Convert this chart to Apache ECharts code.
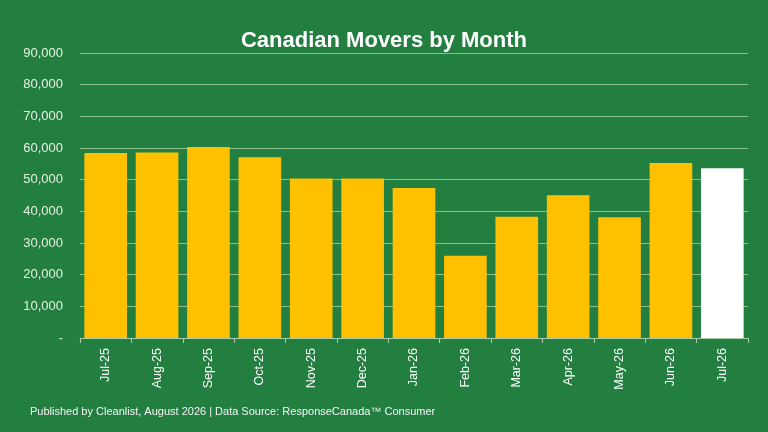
<!DOCTYPE html>
<html><head><meta charset="utf-8">
<script src="https://cdn.jsdelivr.net/npm/echarts@6/dist/echarts.min.js"></script>
<style>html,body{margin:0;padding:0;background:#237F3F;}#c{width:768px;height:432px;}</style>
</head><body><div id="c"></div>
<script>
const categories = ['Jul-25','Aug-25','Sep-25','Oct-25','Nov-25','Dec-25','Jan-26','Feb-26','Mar-26','Apr-26','May-26','Jun-26','Jul-26'];
const movers = [58400, 58600, 60300, 57100, 50400, 50400, 47400, 26000, 38300, 45100, 38100, 55300, 53600];
const highlightIndex = 12;
const titleText = 'Canadian Movers by Month';
const footerText = 'Published by Cleanlist, August 2026 | Data Source: ResponseCanada\u2122 Consumer';

const chart = echarts.init(document.getElementById('c'));
chart.setOption({
  backgroundColor: '#237F3F',
  animation: false,
  title: {
    text: titleText, left: 'center', top: 25,
    textStyle: {color: '#ffffff', fontFamily: 'Liberation Sans, Arial, sans-serif', fontSize: 22, fontWeight: 'bold'}
  },
  graphic: [{
    type: 'text', left: 30, top: 406,
    style: {text: footerText, fill: '#f4f4f4', font: '11px "Liberation Sans Narrow", "Liberation Sans", Arial, sans-serif'}
  }],
  grid: {left: 80, right: 20, top: 53, bottom: 94, containLabel: false},
  xAxis: {
    type: 'category', data: categories,
    axisLine: {show: true, lineStyle: {color: '#a9cfa9', width: 1}},
    axisTick: {show: true, alignWithLabel: false, length: 5, lineStyle: {color: '#a9cfa9'}},
    axisLabel: {rotate: 90, color: '#ffffff', fontFamily: 'Liberation Sans, Arial, sans-serif', fontSize: 12.5, margin: 10}
  },
  yAxis: {
    type: 'value', min: 0, max: 90000, interval: 10000,
    axisLine: {show: false}, axisTick: {show: false},
    splitLine: {lineStyle: {color: '#8dbf8d', width: 1}},
    axisLabel: {
      color: '#e6f0e0', fontFamily: 'Liberation Sans, Arial, sans-serif', fontSize: 13, margin: 17,
      formatter: v => v === 0 ? '-' : v.toLocaleString('en-US')
    }
  },
  series: [{
    type: 'bar', barCategoryGap: '17%',
    data: movers.map((v, i) => ({value: v, itemStyle: {color: i === highlightIndex ? '#ffffff' : '#FFC000'}}))
  }]
});
</script></body></html>
